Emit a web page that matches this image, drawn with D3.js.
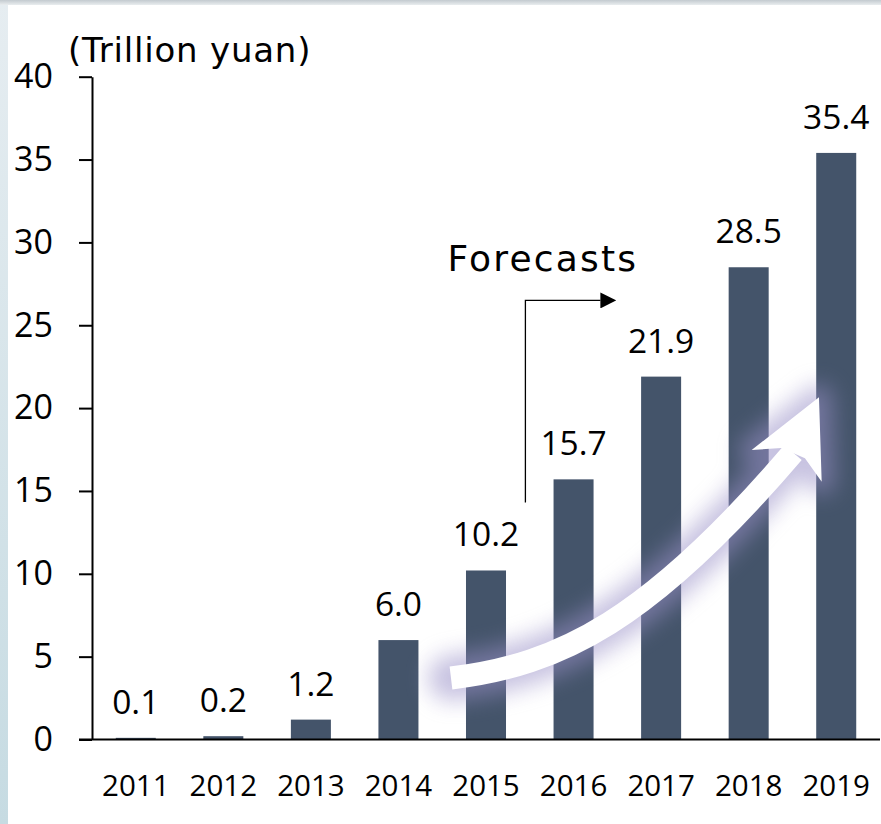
<!DOCTYPE html>
<html>
<head>
<meta charset="utf-8">
<script src="https://cdn.jsdelivr.net/npm/d3@7"></script>
<style>
  html, body { margin: 0; padding: 0; background: #ffffff; }
  svg { display: block; }
</style>
</head>
<body>
<svg id="chart" width="881" height="824"></svg>
<script>
// ---- data ----
const years = ['2011','2012','2013','2014','2015','2016','2017','2018','2019'];
const values = [0.1, 0.2, 1.2, 6.0, 10.2, 15.7, 21.9, 28.5, 35.4];
const valueLabels = ['0.1','0.2','1.2','6.0','10.2','15.7','21.9','28.5','35.4'];
const yTicks = [0, 5, 10, 15, 20, 25, 30, 35, 40];
const unitLabel = '(Trillion yuan)';
const forecastLabel = 'Forecasts';
const forecastStartIndex = 4.45;   // bracket between 2015 and 2016 (category index units)
// decorative growth arrow, in (category index, value) units
const arrowBody = [[3.60, 3.71], [4.845, 4.50], [5.873, 7.21], [7.506, 17.32]];
const arrowHead = [[7.376, 17.59], [7.034, 17.47], [7.803, 20.65], [7.834, 15.55], [7.643, 16.98]];

const W = 881, H = 824;
const svg = d3.select('#chart');

const x = d3.scaleBand().domain(years).range([92, 880]).paddingInner(0.543).paddingOuter(0.2715);
const y = d3.scaleLinear().domain([0, 40]).range([739.5, 76.7]);
const cx = i => x(years[0]) + x.bandwidth() / 2 + i * x.step();

// ---- background frame ----
const defs = svg.append('defs');
const gl = defs.append('linearGradient').attr('id', 'leftStrip').attr('x1', 0).attr('y1', 0).attr('x2', 0).attr('y2', 1);
gl.append('stop').attr('offset', '0%').attr('stop-color', '#e6edf1');
gl.append('stop').attr('offset', '100%').attr('stop-color', '#c6dbe2');
const gt = defs.append('linearGradient').attr('id', 'topStrip').attr('x1', 0).attr('y1', 0).attr('x2', 0).attr('y2', 1);
gt.append('stop').attr('offset', '0%').attr('stop-color', '#c3cacf');
gt.append('stop').attr('offset', '100%').attr('stop-color', '#e9edef');
const f = defs.append('filter').attr('id', 'glow').attr('x', '-50%').attr('y', '-50%').attr('width', '200%').attr('height', '200%');
f.append('feGaussianBlur').attr('stdDeviation', 11);
defs.append('marker').attr('id', 'tri').attr('viewBox', '0 0 10 10').attr('refX', 0).attr('refY', 5)
  .attr('markerWidth', 16).attr('markerHeight', 16).attr('markerUnits', 'userSpaceOnUse').attr('orient', 'auto')
  .append('path').attr('d', 'M0,0L10,5L0,10Z').attr('fill', '#000');

svg.append('rect').attr('x', 0).attr('y', 0).attr('width', W).attr('height', H).attr('fill', '#ffffff');
svg.append('rect').attr('x', 0).attr('y', 0).attr('width', 8).attr('height', H).attr('fill', 'url(#leftStrip)');
svg.append('rect').attr('x', 0).attr('y', 0).attr('width', W).attr('height', 5).attr('fill', 'url(#topStrip)');

// ---- bars ----
svg.append('g').selectAll('rect').data(values).join('rect')
  .attr('x', (d, i) => x(years[i]))
  .attr('y', d => y(d))
  .attr('width', x.bandwidth())
  .attr('height', d => y(0) - y(d))
  .attr('fill', '#44546a');

// ---- growth arrow with glow ----
const bodyPath = () => {
  const p = d3.path();
  const pts = arrowBody.map(([i, v]) => [cx(i), y(v)]);
  p.moveTo(pts[0][0], pts[0][1]);
  p.bezierCurveTo(pts[1][0], pts[1][1], pts[2][0], pts[2][1], pts[3][0], pts[3][1]);
  return p.toString();
};
const headPts = arrowHead.map(([i, v]) => [cx(i), y(v)]);
const glowG = svg.append('g').attr('filter', 'url(#glow)').attr('opacity', 0.55);
glowG.append('path').attr('d', bodyPath()).attr('fill', 'none').attr('stroke', '#9a91c8')
  .attr('stroke-width', 46).attr('stroke-linecap', 'round');
glowG.append('polygon').attr('points', headPts.map(p => p.join(',')).join(' '))
  .attr('fill', '#9a91c8').attr('stroke', '#9a91c8').attr('stroke-width', 26).attr('stroke-linejoin', 'round');
svg.append('path').attr('d', bodyPath()).attr('fill', 'none').attr('stroke', '#ffffff')
  .attr('stroke-width', 23).attr('stroke-linecap', 'butt');
svg.append('polygon').attr('points', headPts.map(p => p.join(',')).join(' ')).attr('fill', '#ffffff');

// ---- axes ----
const yAxis = svg.append('g').attr('transform', 'translate(92,0)')
  .call(d3.axisLeft(y).tickValues(yTicks).tickSize(13).tickSizeOuter(0).tickPadding(26).tickFormat(d3.format('d')));
yAxis.select('.domain').attr('stroke', '#000').attr('stroke-width', 2);
yAxis.selectAll('.tick line').attr('stroke', '#000').attr('stroke-width', 2);
yAxis.selectAll('.tick text').attr('fill', '#000').style('font-family', '"Open Sans", sans-serif').style('font-size', '34px');

const xAxis = svg.append('g').attr('transform', `translate(0,${y(0)})`)
  .call(d3.axisBottom(x).tickSize(0).tickSizeOuter(0));
xAxis.select('.domain').remove();
xAxis.selectAll('.tick text').attr('y', 796 - y(0)).attr('dy', 0).attr('fill', '#000')
  .style('font-family', '"Open Sans", sans-serif').style('font-size', '29.5px');
svg.append('line').attr('x1', 79).attr('x2', 880).attr('y1', y(0)).attr('y2', y(0))
  .attr('stroke', '#000').attr('stroke-width', 2);

// ---- value labels ----
svg.append('g').selectAll('text').data(values).join('text')
  .attr('x', (d, i) => x(years[i]) + x.bandwidth() / 2)
  .attr('y', d => y(d) - 24)
  .attr('text-anchor', 'middle')
  .style('font-family', '"Open Sans", sans-serif').style('font-size', '33.5px').attr('fill', '#000')
  .text((d, i) => valueLabels[i]);

// ---- unit label ----
svg.append('text').attr('x', 68).attr('y', 62).attr('fill', '#000')
  .style('font-family', '"DejaVu Sans", sans-serif').style('font-size', '34px').style('letter-spacing', '0.8px')
  .text(unitLabel);

// ---- forecasts bracket ----
const bx = cx(forecastStartIndex);
svg.append('path')
  .attr('d', `M${bx},${y(14.3)}V${y(26.5)}H${bx + 75}`)
  .attr('fill', 'none').attr('stroke', '#000').attr('stroke-width', 1.3)
  .attr('marker-end', 'url(#tri)');
svg.append('text').attr('x', bx - 78).attr('y', 271).attr('fill', '#000')
  .style('font-family', '"DejaVu Sans", sans-serif').style('font-size', '36px').style('letter-spacing', '2.2px')
  .text(forecastLabel);
</script>
</body>
</html>
